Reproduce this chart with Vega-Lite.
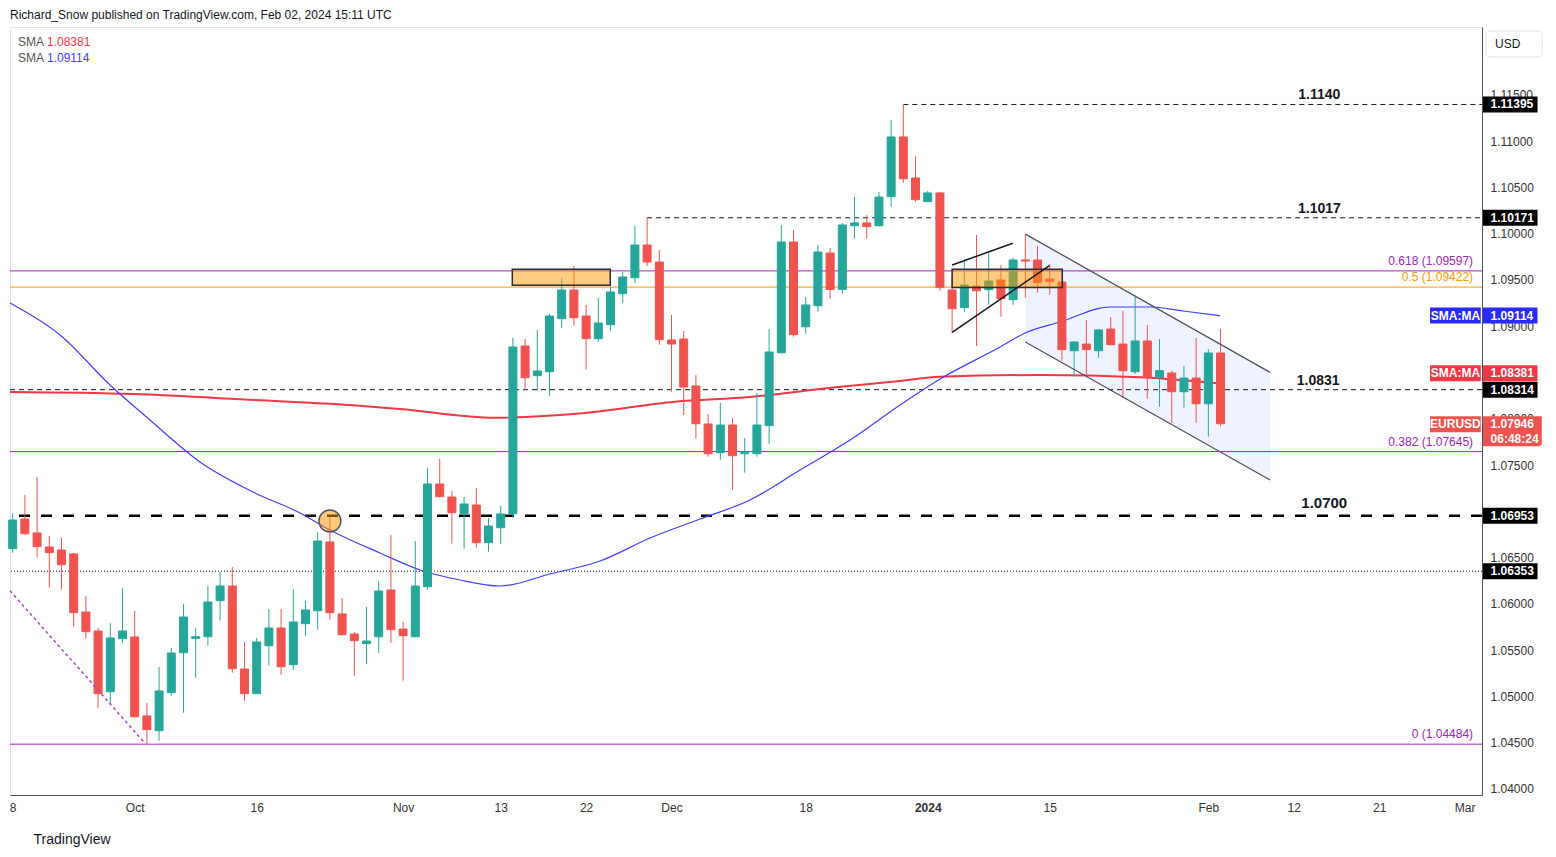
{
"$schema":"https://vega.github.io/schema/vega-lite/v6.json",
"width":1472,"height":768,
"autosize":{"type":"none"},
"padding":{"left":10,"top":27,"right":74,"bottom":62},
"background":"#ffffff",
"title":{"text":"Richard_Snow published on TradingView.com, Feb 02, 2024 15:11 UTC","anchor":"start","frame":"group","offset":5,"fontSize":12,"fontWeight":"normal","color":"#131722","font":"Liberation Sans"},
"config":{"font":"Liberation Sans","view":{"stroke":"#e0e3eb"},"axis":{"grid":false,"ticks":false},"scale":{"continuousPadding":0}},
"datasets":{
"candles":[
{"d":"2023-09-18","i":0,"o":1.06596,"h":1.06978,"l":1.06553,"c":1.06906},
{"d":"2023-09-19","i":1,"o":1.06917,"h":1.07176,"l":1.06744,"c":1.06758},
{"d":"2023-09-20","i":2,"o":1.06766,"h":1.07371,"l":1.06499,"c":1.06618},
{"d":"2023-09-21","i":3,"o":1.06614,"h":1.06733,"l":1.06175,"c":1.06553},
{"d":"2023-09-22","i":4,"o":1.06582,"h":1.06712,"l":1.06153,"c":1.06423},
{"d":"2023-09-25","i":5,"o":1.06539,"h":1.06550,"l":1.05753,"c":1.05905},
{"d":"2023-09-26","i":6,"o":1.05912,"h":1.06085,"l":1.05624,"c":1.05699},
{"d":"2023-09-27","i":7,"o":1.05707,"h":1.05739,"l":1.04878,"c":1.05030},
{"d":"2023-09-28","i":8,"o":1.05051,"h":1.05793,"l":1.04911,"c":1.05631},
{"d":"2023-09-29","i":9,"o":1.05624,"h":1.06171,"l":1.05580,"c":1.05707},
{"d":"2023-10-02","i":10,"o":1.05642,"h":1.05923,"l":1.04770,"c":1.04781},
{"d":"2023-10-03","i":11,"o":1.04789,"h":1.04929,"l":1.04484,"c":1.04641},
{"d":"2023-10-04","i":12,"o":1.04630,"h":1.05318,"l":1.04522,"c":1.05059},
{"d":"2023-10-05","i":13,"o":1.05040,"h":1.05523,"l":1.05008,"c":1.05469},
{"d":"2023-10-06","i":14,"o":1.05472,"h":1.05999,"l":1.04824,"c":1.05858},
{"d":"2023-10-09","i":15,"o":1.05628,"h":1.05739,"l":1.05202,"c":1.05645},
{"d":"2023-10-10","i":16,"o":1.05645,"h":1.06193,"l":1.05548,"c":1.06020},
{"d":"2023-10-11","i":17,"o":1.06034,"h":1.06347,"l":1.05818,"c":1.06193},
{"d":"2023-10-12","i":18,"o":1.06193,"h":1.06398,"l":1.05256,"c":1.05300},
{"d":"2023-10-13","i":19,"o":1.05296,"h":1.05588,"l":1.04954,"c":1.05030},
{"d":"2023-10-16","i":20,"o":1.05030,"h":1.05631,"l":1.05025,"c":1.05588},
{"d":"2023-10-17","i":21,"o":1.05548,"h":1.05945,"l":1.05332,"c":1.05739},
{"d":"2023-10-18","i":22,"o":1.05739,"h":1.05945,"l":1.05235,"c":1.05321},
{"d":"2023-10-19","i":23,"o":1.05343,"h":1.06161,"l":1.05289,"c":1.05804},
{"d":"2023-10-20","i":24,"o":1.05786,"h":1.06031,"l":1.05656,"c":1.05934},
{"d":"2023-10-23","i":25,"o":1.05926,"h":1.06776,"l":1.05721,"c":1.06679},
{"d":"2023-10-24","i":26,"o":1.06668,"h":1.06942,"l":1.05829,"c":1.05905},
{"d":"2023-10-25","i":27,"o":1.05891,"h":1.06063,"l":1.05656,"c":1.05667},
{"d":"2023-10-26","i":28,"o":1.05674,"h":1.05696,"l":1.05224,"c":1.05602},
{"d":"2023-10-27","i":29,"o":1.05570,"h":1.05966,"l":1.05354,"c":1.05599},
{"d":"2023-10-30","i":30,"o":1.05645,"h":1.06247,"l":1.05472,"c":1.06139},
{"d":"2023-10-31","i":31,"o":1.06150,"h":1.06744,"l":1.05580,"c":1.05721},
{"d":"2023-11-01","i":32,"o":1.05728,"h":1.05804,"l":1.05170,"c":1.05656},
{"d":"2023-11-02","i":33,"o":1.05645,"h":1.06679,"l":1.05640,"c":1.06193},
{"d":"2023-11-03","i":34,"o":1.06185,"h":1.07468,"l":1.06153,"c":1.07295},
{"d":"2023-11-06","i":35,"o":1.07295,"h":1.07565,"l":1.07150,"c":1.07158},
{"d":"2023-11-07","i":36,"o":1.07154,"h":1.07219,"l":1.06650,"c":1.06985},
{"d":"2023-11-08","i":37,"o":1.06974,"h":1.07154,"l":1.06596,"c":1.07079},
{"d":"2023-11-09","i":38,"o":1.07068,"h":1.07252,"l":1.06607,"c":1.06661},
{"d":"2023-11-10","i":39,"o":1.06661,"h":1.06928,"l":1.06564,"c":1.06841},
{"d":"2023-11-13","i":40,"o":1.06823,"h":1.07057,"l":1.06650,"c":1.06971},
{"d":"2023-11-14","i":41,"o":1.06974,"h":1.08872,"l":1.06931,"c":1.08775},
{"d":"2023-11-15","i":42,"o":1.08786,"h":1.08861,"l":1.08314,"c":1.08443},
{"d":"2023-11-16","i":43,"o":1.08465,"h":1.08959,"l":1.08303,"c":1.08516},
{"d":"2023-11-17","i":44,"o":1.08508,"h":1.09131,"l":1.08249,"c":1.09110},
{"d":"2023-11-20","i":45,"o":1.09081,"h":1.09520,"l":1.08983,"c":1.09391},
{"d":"2023-11-21","i":46,"o":1.09391,"h":1.09650,"l":1.09005,"c":1.09092},
{"d":"2023-11-22","i":47,"o":1.09110,"h":1.09229,"l":1.08530,"c":1.08865},
{"d":"2023-11-23","i":48,"o":1.08865,"h":1.09304,"l":1.08832,"c":1.09034},
{"d":"2023-11-24","i":49,"o":1.09016,"h":1.09423,"l":1.08951,"c":1.09369},
{"d":"2023-11-27","i":50,"o":1.09351,"h":1.09585,"l":1.09254,"c":1.09531},
{"d":"2023-11-28","i":51,"o":1.09524,"h":1.10082,"l":1.09466,"c":1.09877},
{"d":"2023-11-29","i":52,"o":1.09877,"h":1.10171,"l":1.09650,"c":1.09693},
{"d":"2023-11-30","i":53,"o":1.09693,"h":1.09823,"l":1.08800,"c":1.08854},
{"d":"2023-12-01","i":54,"o":1.08851,"h":1.09121,"l":1.08292,"c":1.08807},
{"d":"2023-12-04","i":55,"o":1.08861,"h":1.08948,"l":1.08040,"c":1.08343},
{"d":"2023-12-05","i":56,"o":1.08354,"h":1.08472,"l":1.07784,"c":1.07946},
{"d":"2023-12-06","i":57,"o":1.07943,"h":1.08051,"l":1.07590,"c":1.07622},
{"d":"2023-12-07","i":58,"o":1.07633,"h":1.08170,"l":1.07557,"c":1.07932},
{"d":"2023-12-08","i":59,"o":1.07932,"h":1.08008,"l":1.07233,"c":1.07601},
{"d":"2023-12-11","i":60,"o":1.07622,"h":1.07792,"l":1.07417,"c":1.07633},
{"d":"2023-12-12","i":61,"o":1.07622,"h":1.08278,"l":1.07590,"c":1.07932},
{"d":"2023-12-13","i":62,"o":1.07925,"h":1.08969,"l":1.07730,"c":1.08721},
{"d":"2023-12-14","i":63,"o":1.08713,"h":1.10093,"l":1.08705,"c":1.09909},
{"d":"2023-12-15","i":64,"o":1.09909,"h":1.10039,"l":1.08886,"c":1.08908},
{"d":"2023-12-18","i":65,"o":1.08994,"h":1.09315,"l":1.08919,"c":1.09229},
{"d":"2023-12-19","i":66,"o":1.09221,"h":1.09877,"l":1.09156,"c":1.09801},
{"d":"2023-12-20","i":67,"o":1.09790,"h":1.09844,"l":1.09297,"c":1.09396},
{"d":"2023-12-21","i":68,"o":1.09398,"h":1.10115,"l":1.09351,"c":1.10093},
{"d":"2023-12-22","i":69,"o":1.10085,"h":1.10395,"l":1.09945,"c":1.10115},
{"d":"2023-12-25","i":70,"o":1.10115,"h":1.10201,"l":1.09945,"c":1.10075},
{"d":"2023-12-26","i":71,"o":1.10085,"h":1.10449,"l":1.10080,"c":1.10395},
{"d":"2023-12-27","i":72,"o":1.10399,"h":1.11227,"l":1.10291,"c":1.11044},
{"d":"2023-12-28","i":73,"o":1.11044,"h":1.11395,"l":1.10550,"c":1.10593},
{"d":"2023-12-29","i":74,"o":1.10601,"h":1.10838,"l":1.10345,"c":1.10366},
{"d":"2024-01-01","i":75,"o":1.10345,"h":1.10460,"l":1.10340,"c":1.10439},
{"d":"2024-01-02","i":76,"o":1.10439,"h":1.10449,"l":1.09383,"c":1.09420},
{"d":"2024-01-03","i":77,"o":1.09391,"h":1.09553,"l":1.08929,"c":1.09189},
{"d":"2024-01-04","i":78,"o":1.09200,"h":1.09726,"l":1.09156,"c":1.09445},
{"d":"2024-01-05","i":79,"o":1.09434,"h":1.09985,"l":1.08786,"c":1.09383},
{"d":"2024-01-08","i":80,"o":1.09394,"h":1.09801,"l":1.09232,"c":1.09488},
{"d":"2024-01-09","i":81,"o":1.09499,"h":1.09661,"l":1.09102,"c":1.09297},
{"d":"2024-01-10","i":82,"o":1.09286,"h":1.09737,"l":1.09232,"c":1.09715},
{"d":"2024-01-11","i":83,"o":1.09715,"h":1.09996,"l":1.09308,"c":1.09704},
{"d":"2024-01-12","i":84,"o":1.09715,"h":1.09866,"l":1.09362,"c":1.09470},
{"d":"2024-01-15","i":85,"o":1.09510,"h":1.09672,"l":1.09340,"c":1.09480},
{"d":"2024-01-16","i":86,"o":1.09477,"h":1.09480,"l":1.08627,"c":1.08746},
{"d":"2024-01-17","i":87,"o":1.08735,"h":1.08840,"l":1.08454,"c":1.08829},
{"d":"2024-01-18","i":88,"o":1.08807,"h":1.09067,"l":1.08465,"c":1.08746},
{"d":"2024-01-19","i":89,"o":1.08735,"h":1.08969,"l":1.08659,"c":1.08959},
{"d":"2024-01-22","i":90,"o":1.08969,"h":1.09099,"l":1.08795,"c":1.08800},
{"d":"2024-01-23","i":91,"o":1.08807,"h":1.09164,"l":1.08224,"c":1.08519},
{"d":"2024-01-24","i":92,"o":1.08508,"h":1.09320,"l":1.08486,"c":1.08840},
{"d":"2024-01-25","i":93,"o":1.08840,"h":1.09013,"l":1.08216,"c":1.08443},
{"d":"2024-01-26","i":94,"o":1.08443,"h":1.08861,"l":1.08130,"c":1.08519},
{"d":"2024-01-29","i":95,"o":1.08494,"h":1.08519,"l":1.07957,"c":1.08292},
{"d":"2024-01-30","i":96,"o":1.08292,"h":1.08570,"l":1.08119,"c":1.08440},
{"d":"2024-01-31","i":97,"o":1.08440,"h":1.08872,"l":1.07957,"c":1.08162},
{"d":"2024-02-01","i":98,"o":1.08162,"h":1.08753,"l":1.07806,"c":1.08710},
{"d":"2024-02-02","i":99,"o":1.08710,"h":1.08969,"l":1.07914,"c":1.07946}
],
"sma50":[
{"i":-0.22,"p":1.09250},{"i":3.88,"p":1.08905},{"i":7.98,"p":1.08364},{"i":11.25,"p":1.07986},{"i":15.35,"p":1.07533},{"i":19.86,"p":1.07198},{"i":23.55,"p":1.06982},{"i":26.0,"p":1.06798},{"i":30.1,"p":1.06550},{"i":33.4,"p":1.06366},{"i":36.66,"p":1.06258},{"i":39.94,"p":1.06193},{"i":44.04,"p":1.06323},{"i":48.14,"p":1.06463},{"i":52.24,"p":1.06712},{"i":56.34,"p":1.06917},{"i":60.43,"p":1.07122},{"i":64.53,"p":1.07446},{"i":68.63,"p":1.07770},{"i":72.73,"p":1.08148},{"i":76.01,"p":1.08429},{"i":80.93,"p":1.08775},{"i":82.98,"p":1.08926},{"i":85.84,"p":1.09045},{"i":89.94,"p":1.09207},{"i":93.22,"p":1.09207},{"i":95.93,"p":1.09164},{"i":98.96,"p":1.09114}
],
"sma200":[
{"i":-0.22,"p":1.08289},{"i":9.86,"p":1.08267},{"i":19.86,"p":1.08202},{"i":27.65,"p":1.08148},{"i":31.75,"p":1.08105},{"i":39.53,"p":1.08011},{"i":46.93,"p":1.08062},{"i":54.29,"p":1.08184},{"i":60.43,"p":1.08235},{"i":67.43,"p":1.08340},{"i":72.73,"p":1.08408},{"i":76.01,"p":1.08454},{"i":84.2,"p":1.08472},{"i":92.4,"p":1.08448},{"i":98.96,"p":1.08381}
]
},
"layer":[
{"data":{"values":[{"i":83.0,"top":1.09995,"bot":1.08829},{"i":103.06,"top":1.08501,"bot":1.07338}]},
 "mark":{"type":"area","fill":"#2962ff","fillOpacity":0.08},
 "encoding":{
  "x":{"field":"i","type":"quantitative","scale":{"domain":[-0.22,120.43],"nice":false,"zero":false,"padding":0},
   "axis":{"title":"TradingView","titleAnchor":"start","titleAlign":"left","titleX":23,"titleY":44,"titleBaseline":"middle","titleFontSize":14,"titleFontWeight":"normal","titleColor":"#131722",
    "values":[0,10,20,32,40,47,54,65,75,85,98,105,112,119],
    "labelExpr":"datum.value==0?'8':datum.value==10?'Oct':datum.value==20?'16':datum.value==32?'Nov':datum.value==40?'13':datum.value==47?'22':datum.value==54?'Dec':datum.value==65?'18':datum.value==75?'2024':datum.value==85?'15':datum.value==98?'Feb':datum.value==105?'12':datum.value==112?'21':'Mar'",
    "labelFontSize":12,"labelColor":"#333333","labelPadding":7,"labelFlush":false,"labelOverlap":false,
    "labelFontWeight":{"condition":{"test":"datum.value==75","value":"bold"},"value":"normal"},
    "domainColor":"#50535e","ticks":false,"grid":false}},
  "y":{"field":"top","type":"quantitative","scale":{"domain":[1.03935,1.12232],"nice":false,"zero":false,"padding":0},
   "axis":{"orient":"right","title":null,"values":[1.04,1.045,1.05,1.055,1.06,1.065,1.075,1.08,1.09,1.095,1.1,1.105,1.11,1.115],"format":".5f","labelFontSize":12,"labelColor":"#333333","labelPadding":8,"labelAlign":"left","labelBaseline":"middle","labelOverlap":false,"labelFlush":false,"domainColor":"#50535e","ticks":false,"grid":false}},
  "y2":{"field":"bot"}}},
{"data":{"values":[{"p":1.09597},{"p":1.07645},{"p":1.04484}]},"mark":{"type":"rule","color":"#9c27b0","strokeWidth":1},
 "encoding":{"y":{"field":"p","type":"quantitative","scale":{"domain":[1.03935,1.12232],"nice":false,"zero":false,"padding":0}}}},
{"data":{"values":[{"p":1.09422}]},"mark":{"type":"rule","color":"#ff9800","strokeWidth":1},
 "encoding":{"y":{"field":"p","type":"quantitative","scale":{"domain":[1.03935,1.12232],"nice":false,"zero":false,"padding":0}}}},
{"data":{"values":[{"from":73,"p":1.11395},{"from":52,"p":1.10171},{"from":-0.22,"p":1.08314}]},"mark":{"type":"rule","color":"#131722","strokeWidth":1,"strokeDash":[5,4]},
 "encoding":{"x":{"field":"from","type":"quantitative","scale":{"domain":[-0.22,120.43],"nice":false,"zero":false,"padding":0}},"x2":{"datum":120.43},
  "y":{"field":"p","type":"quantitative","scale":{"domain":[1.03935,1.12232],"nice":false,"zero":false,"padding":0}}}},
{"data":{"values":[{"p":1.06953}]},"mark":{"type":"rule","color":"#000000","strokeWidth":2.5,"strokeDash":[11,11]},
 "encoding":{"y":{"field":"p","type":"quantitative","scale":{"domain":[1.03935,1.12232],"nice":false,"zero":false,"padding":0}}}},
{"data":{"values":[{"p":1.06353}]},"mark":{"type":"rule","color":"#131722","strokeWidth":1,"strokeDash":[1,2]},
 "encoding":{"y":{"field":"p","type":"quantitative","scale":{"domain":[1.03935,1.12232],"nice":false,"zero":false,"padding":0}}}},
{"data":{"name":"sma200"},"mark":{"type":"line","color":"#f23645","strokeWidth":2,"interpolate":"monotone"},
 "encoding":{"x":{"field":"i","type":"quantitative","scale":{"domain":[-0.22,120.43],"nice":false,"zero":false,"padding":0}},
  "y":{"field":"p","type":"quantitative","scale":{"domain":[1.03935,1.12232],"nice":false,"zero":false,"padding":0}}}},
{"data":{"name":"sma50"},"mark":{"type":"line","color":"#4040ff","strokeWidth":1.2,"interpolate":"monotone"},
 "encoding":{"x":{"field":"i","type":"quantitative","scale":{"domain":[-0.22,120.43],"nice":false,"zero":false,"padding":0}},
  "y":{"field":"p","type":"quantitative","scale":{"domain":[1.03935,1.12232],"nice":false,"zero":false,"padding":0}}}},
{"data":{"name":"candles"},"mark":{"type":"rule","strokeWidth":1},
 "encoding":{"x":{"field":"i","type":"quantitative","scale":{"domain":[-0.22,120.43],"nice":false,"zero":false,"padding":0}},
  "y":{"field":"l","type":"quantitative","scale":{"domain":[1.03935,1.12232],"nice":false,"zero":false,"padding":0}},"y2":{"field":"h"},
  "color":{"condition":{"test":"datum.c>=datum.o","value":"#26a69a"},"value":"#ef5350"}}},
{"data":{"name":"candles"},"mark":{"type":"bar","size":8,"strokeWidth":1},
 "encoding":{"x":{"field":"i","type":"quantitative","scale":{"domain":[-0.22,120.43],"nice":false,"zero":false,"padding":0}},
  "y":{"field":"o","type":"quantitative","scale":{"domain":[1.03935,1.12232],"nice":false,"zero":false,"padding":0}},"y2":{"field":"c"},
  "color":{"condition":{"test":"datum.c>=datum.o","value":"#26a69a"},"value":"#ef5350"},
  "stroke":{"condition":{"test":"datum.c>=datum.o","value":"#26a69a"},"value":"#ef5350"}}},
{"data":{"values":[{"x1":40.95,"x2":48.98,"lo":1.09441,"hi":1.09614},{"x1":77.0,"x2":86.03,"lo":1.09419,"hi":1.09614}]},
 "mark":{"type":"rect","fill":"#ff9800","fillOpacity":0.5,"stroke":"#2a2e39","strokeWidth":1.5},
 "encoding":{"x":{"field":"x1","type":"quantitative","scale":{"domain":[-0.22,120.43],"nice":false,"zero":false,"padding":0}},"x2":{"field":"x2"},
  "y":{"field":"lo","type":"quantitative","scale":{"domain":[1.03935,1.12232],"nice":false,"zero":false,"padding":0}},"y2":{"field":"hi"}}},
{"data":{"values":[{"i":26,"p":1.06895}]},
 "mark":{"type":"point","shape":"circle","filled":true,"fill":"#ff9800","fillOpacity":0.5,"stroke":"#50535e","strokeOpacity":1,"strokeWidth":1.5,"size":480},
 "encoding":{"x":{"field":"i","type":"quantitative","scale":{"domain":[-0.22,120.43],"nice":false,"zero":false,"padding":0}},
  "y":{"field":"p","type":"quantitative","scale":{"domain":[1.03935,1.12232],"nice":false,"zero":false,"padding":0}}}},
{"data":{"values":[{"id":"u","i":77.0,"p":1.09661},{"id":"u","i":81.97,"p":1.09895},{"id":"l","i":77.0,"p":1.08934},{"id":"l","i":84.97,"p":1.09653}]},
 "mark":{"type":"line","color":"#131722","strokeWidth":1.5},
 "encoding":{"x":{"field":"i","type":"quantitative","scale":{"domain":[-0.22,120.43],"nice":false,"zero":false,"padding":0}},
  "y":{"field":"p","type":"quantitative","scale":{"domain":[1.03935,1.12232],"nice":false,"zero":false,"padding":0}},"detail":{"field":"id"}}},
{"data":{"values":[{"id":"u","i":83.0,"p":1.09995},{"id":"u","i":103.06,"p":1.08501},{"id":"l","i":83.0,"p":1.08829},{"id":"l","i":103.06,"p":1.07338}]},
 "mark":{"type":"line","color":"#50535e","strokeWidth":1.3},
 "encoding":{"x":{"field":"i","type":"quantitative","scale":{"domain":[-0.22,120.43],"nice":false,"zero":false,"padding":0}},
  "y":{"field":"p","type":"quantitative","scale":{"domain":[1.03935,1.12232],"nice":false,"zero":false,"padding":0}},"detail":{"field":"id"}}},
{"data":{"values":[{"i":-0.22,"p":1.06142},{"i":10.84,"p":1.04494}]},
 "mark":{"type":"line","color":"#ab47bc","strokeWidth":1.5,"strokeDash":[3,3]},
 "encoding":{"x":{"field":"i","type":"quantitative","scale":{"domain":[-0.22,120.43],"nice":false,"zero":false,"padding":0}},
  "y":{"field":"p","type":"quantitative","scale":{"domain":[1.03935,1.12232],"nice":false,"zero":false,"padding":0}}}},
{"data":{"values":[{"t":"1.1140","i":107.1,"p":1.11395},{"t":"1.1017","i":107.1,"p":1.10171},{"t":"1.0831","i":107.0,"p":1.08314}]},
 "mark":{"type":"text","fontSize":14,"fontWeight":"bold","color":"#131722","align":"center","baseline":"alphabetic","dy":-5},
 "encoding":{"x":{"field":"i","type":"quantitative","scale":{"domain":[-0.22,120.43],"nice":false,"zero":false,"padding":0}},
  "y":{"field":"p","type":"quantitative","scale":{"domain":[1.03935,1.12232],"nice":false,"zero":false,"padding":0}},"text":{"field":"t"}}},
{"data":{"values":[{"t":"1.0700","i":107.5,"p":1.06953}]},
 "mark":{"type":"text","fontSize":15,"fontWeight":"bold","color":"#131722","align":"center","baseline":"alphabetic","dy":-8},
 "encoding":{"x":{"field":"i","type":"quantitative","scale":{"domain":[-0.22,120.43],"nice":false,"zero":false,"padding":0}},
  "y":{"field":"p","type":"quantitative","scale":{"domain":[1.03935,1.12232],"nice":false,"zero":false,"padding":0}},"text":{"field":"t"}}},
{"data":{"values":[{"t":"0.618 (1.09597)","p":1.09597},{"t":"0.382 (1.07645)","p":1.07645},{"t":"0 (1.04484)","p":1.04484}]},
 "mark":{"type":"text","fontSize":12,"color":"#9c27b0","align":"right","baseline":"alphabetic","dy":-6},
 "encoding":{"x":{"datum":119.7,"scale":{"domain":[-0.22,120.43],"nice":false,"zero":false,"padding":0}},
  "y":{"field":"p","type":"quantitative","scale":{"domain":[1.03935,1.12232],"nice":false,"zero":false,"padding":0}},"text":{"field":"t"}}},
{"data":{"values":[{"t":"0.5 (1.09422)","p":1.09422}]},
 "mark":{"type":"text","fontSize":12,"color":"#ff9800","align":"right","baseline":"alphabetic","dy":-6},
 "encoding":{"x":{"datum":119.7,"scale":{"domain":[-0.22,120.43],"nice":false,"zero":false,"padding":0}},
  "y":{"field":"p","type":"quantitative","scale":{"domain":[1.03935,1.12232],"nice":false,"zero":false,"padding":0}},"text":{"field":"t"}}},
{"data":{"values":[{"t":"SMA","p":1.12070},{"t":"SMA","p":1.11897}]},
 "mark":{"type":"text","fontSize":12,"color":"#555555","align":"left","baseline":"middle"},
 "encoding":{"x":{"datum":0.43,"scale":{"domain":[-0.22,120.43],"nice":false,"zero":false,"padding":0}},
  "y":{"field":"p","type":"quantitative","scale":{"domain":[1.03935,1.12232],"nice":false,"zero":false,"padding":0}},"text":{"field":"t"}}},
{"data":{"values":[{"t":"1.08381","p":1.12070}]},
 "mark":{"type":"text","fontSize":12,"color":"#f23645","align":"left","baseline":"middle"},
 "encoding":{"x":{"datum":2.81,"scale":{"domain":[-0.22,120.43],"nice":false,"zero":false,"padding":0}},
  "y":{"field":"p","type":"quantitative","scale":{"domain":[1.03935,1.12232],"nice":false,"zero":false,"padding":0}},"text":{"field":"t"}}},
{"data":{"values":[{"t":"1.09114","p":1.11897}]},
 "mark":{"type":"text","fontSize":12,"color":"#4040ff","align":"left","baseline":"middle"},
 "encoding":{"x":{"datum":2.81,"scale":{"domain":[-0.22,120.43],"nice":false,"zero":false,"padding":0}},
  "y":{"field":"p","type":"quantitative","scale":{"domain":[1.03935,1.12232],"nice":false,"zero":false,"padding":0}},"text":{"field":"t"}}},
{"data":{"values":[{"p":1.12048}]},
 "mark":{"type":"bar","orient":"horizontal","size":26,"fill":"#ffffff","stroke":"#e0e3eb","strokeWidth":1,"cornerRadius":4},
 "encoding":{"x":{"datum":120.76,"scale":{"domain":[-0.22,120.43],"nice":false,"zero":false,"padding":0}},"x2":{"datum":125.36},
  "y":{"field":"p","type":"quantitative","scale":{"domain":[1.03935,1.12232],"nice":false,"zero":false,"padding":0}}}},
{"data":{"values":[{"t":"USD","p":1.12048}]},
 "mark":{"type":"text","fontSize":12,"color":"#131722","align":"left","baseline":"middle"},
 "encoding":{"x":{"datum":121.5,"scale":{"domain":[-0.22,120.43],"nice":false,"zero":false,"padding":0}},
  "y":{"field":"p","type":"quantitative","scale":{"domain":[1.03935,1.12232],"nice":false,"zero":false,"padding":0}},"text":{"field":"t"}}},
{"data":{"values":[{"t":"1.11395","p":1.11395,"k":"level"},{"t":"1.10171","p":1.10171,"k":"level"},{"t":"1.09114","p":1.09114,"k":"sma50"},{"t":"1.08381","p":1.08491,"k":"sma200"},{"t":"1.08314","p":1.08314,"k":"level"},{"t":"1.06953","p":1.06953,"k":"level"},{"t":"1.06353","p":1.06353,"k":"level"}]},
 "mark":{"type":"bar","orient":"horizontal","size":16},
 "encoding":{"x":{"datum":120.51,"scale":{"domain":[-0.22,120.43],"nice":false,"zero":false,"padding":0}},"x2":{"datum":124.98},
  "y":{"field":"p","type":"quantitative","scale":{"domain":[1.03935,1.12232],"nice":false,"zero":false,"padding":0}},
  "color":{"field":"k","type":"nominal","scale":{"domain":["level","sma50","sma200","price"],"range":["#000000","#2a2aff","#f23645","#ef5350"]},"legend":null}}},
{"data":{"values":[{"t":"SMA:MA","p":1.09114,"k":"sma50"},{"t":"SMA:MA","p":1.08491,"k":"sma200"},{"t":"EURUSD","p":1.07940,"k":"price"}]},
 "mark":{"type":"bar","orient":"horizontal","size":16},
 "encoding":{"x":{"datum":116.17,"scale":{"domain":[-0.22,120.43],"nice":false,"zero":false,"padding":0}},"x2":{"datum":120.33},
  "y":{"field":"p","type":"quantitative","scale":{"domain":[1.03935,1.12232],"nice":false,"zero":false,"padding":0}},
  "color":{"field":"k","type":"nominal","scale":{"domain":["level","sma50","sma200","price"],"range":["#000000","#2a2aff","#f23645","#ef5350"]},"legend":null}}},
{"data":{"values":[{"p":1.07864,"k":"price"}]},
 "mark":{"type":"bar","orient":"horizontal","size":30,"cornerRadiusBottomRight":3},
 "encoding":{"x":{"datum":120.51,"scale":{"domain":[-0.22,120.43],"nice":false,"zero":false,"padding":0}},"x2":{"datum":125.33},
  "y":{"field":"p","type":"quantitative","scale":{"domain":[1.03935,1.12232],"nice":false,"zero":false,"padding":0}},
  "color":{"field":"k","type":"nominal","scale":{"domain":["level","sma50","sma200","price"],"range":["#000000","#2a2aff","#f23645","#ef5350"]},"legend":null}}},
{"data":{"values":[{"t":"1.11395","p":1.11395},{"t":"1.10171","p":1.10171},{"t":"1.09114","p":1.09114},{"t":"1.08381","p":1.08491},{"t":"1.08314","p":1.08314},{"t":"1.06953","p":1.06953},{"t":"1.06353","p":1.06353},{"t":"1.07946","p":1.07946},{"t":"06:48:24","p":1.07786}]},
 "mark":{"type":"text","fontSize":12,"fontWeight":"bold","color":"#ffffff","align":"left","baseline":"middle"},
 "encoding":{"x":{"datum":121.13,"scale":{"domain":[-0.22,120.43],"nice":false,"zero":false,"padding":0}},
  "y":{"field":"p","type":"quantitative","scale":{"domain":[1.03935,1.12232],"nice":false,"zero":false,"padding":0}},"text":{"field":"t"}}},
{"data":{"values":[{"t":"SMA:MA","p":1.09114},{"t":"SMA:MA","p":1.08491},{"t":"EURUSD","p":1.07940}]},
 "mark":{"type":"text","fontSize":12,"fontWeight":"bold","color":"#ffffff","align":"center","baseline":"middle"},
 "encoding":{"x":{"datum":118.25,"scale":{"domain":[-0.22,120.43],"nice":false,"zero":false,"padding":0}},
  "y":{"field":"p","type":"quantitative","scale":{"domain":[1.03935,1.12232],"nice":false,"zero":false,"padding":0}},"text":{"field":"t"}}}
]
}
